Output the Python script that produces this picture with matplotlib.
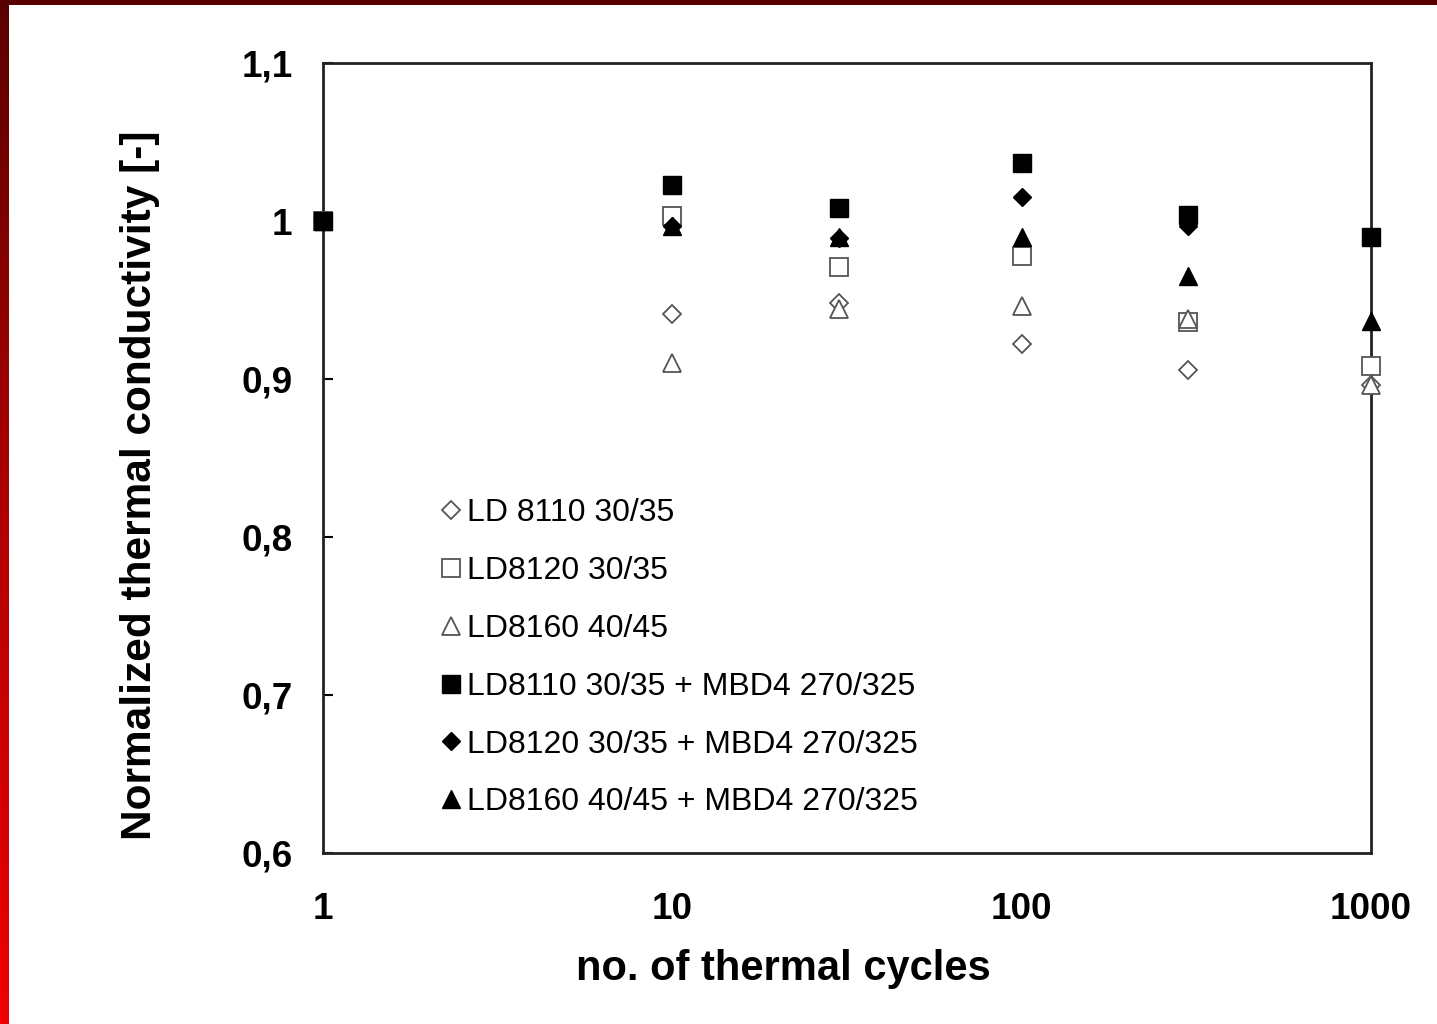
import numpy as np
import matplotlib
matplotlib.use("Agg")
import matplotlib.pyplot as plt
from matplotlib.colors import LinearSegmentedColormap

# ---- data ----
cycles = [1, 10, 30, 100, 300, 1000]

ld8110 = [1.0, 0.941, 0.948, 0.922, 0.906, 0.896]
ld8120 = [1.0, 1.003, 0.971, 0.978, 0.936, 0.908]
ld8160 = [1.0, 0.910, 0.944, 0.946, 0.938, 0.896]
ld8110_mbd = [1.0, 1.023, 1.008, 1.037, 1.004, 0.990]
ld8120_mbd = [1.0, 0.997, 0.989, 1.015, 0.997, 0.990]
ld8160_mbd = [1.0, 0.997, 0.990, 0.990, 0.965, 0.937]

labels = ["LD 8110 30/35", "LD8120 30/35", "LD8160 40/45",
          "LD8110 30/35 + MBD4 270/325", "LD8120 30/35 + MBD4 270/325",
          "LD8160 40/45 + MBD4 270/325"]

yticks = [0.6, 0.7, 0.8, 0.9, 1.0, 1.1]
ytick_labels = ["0,6", "0,7", "0,8", "0,9", "1", "1,1"]
xticks = [1, 10, 100, 1000]
xtick_labels = ["1", "10", "100", "1000"]

plt.rcParams["font.family"] = ["Liberation Sans", "DejaVu Sans"]

fig = plt.figure(figsize=(14.37, 10.24), dpi=100)
W, H = 1437, 1024

# red slide frame (left and top strips)
bar = fig.add_axes([0, 0, 9 / W, 1])
cm = LinearSegmentedColormap.from_list("fr", ["#f00000", "#b00000", "#5a0000"])
bar.imshow(np.linspace(0, 1, 256)[:, None], aspect="auto", cmap=cm, origin="lower")
bar.axis("off")
top = fig.add_axes([0, 1 - 5 / H, 1, 5 / H])
top.set_facecolor("#580000")
top.set_xticks([]); top.set_yticks([])
for s in top.spines.values():
    s.set_visible(False)

ax = fig.add_axes([323 / W, 1 - 853 / H, (1371 - 323) / W, (853 - 63) / H])
ax.set_xscale("log")
ax.set_xlim(1, 1000)
ax.set_ylim(0.6, 1.1)

ms = 13
ec = "#555555"
series = [
    (ld8110, dict(marker="D", ms=ms * 0.72, mfc="white", mec=ec, mew=1.3)),
    (ld8120, dict(marker="s", ms=ms, mfc="white", mec=ec, mew=1.3)),
    (ld8160, dict(marker="^", ms=ms, mfc="white", mec=ec, mew=1.3)),
    (ld8110_mbd, dict(marker="s", ms=ms, mfc="black", mec="black")),
    (ld8120_mbd, dict(marker="D", ms=ms * 0.72, mfc="black", mec="black")),
    (ld8160_mbd, dict(marker="^", ms=ms, mfc="black", mec="black")),
]
for (vals, st), lab in zip(series, labels):
    ax.plot(cycles, vals, ls="none", label=lab, clip_on=False, zorder=3, **st)

ax.set_yticks(yticks)
ax.set_yticklabels(ytick_labels)
ax.set_xticks(xticks)
ax.set_xticklabels(xtick_labels)
ax.xaxis.set_minor_locator(matplotlib.ticker.NullLocator())
ax.tick_params(axis="y", direction="in", length=7, width=1.5, pad=22,
               labelsize=26.5)
ax.tick_params(axis="x", direction="out", length=0, pad=28, labelsize=26.5)
for lab in ax.get_xticklabels() + ax.get_yticklabels():
    lab.set_fontweight("bold")
for s in ax.spines.values():
    s.set_linewidth(2)
    s.set_color("#222222")

ax.set_xlabel("no. of thermal cycles", fontsize=30, fontweight="bold")
ax.xaxis.set_label_coords((783 - 323) / 1048, -0.122)
ax.set_ylabel("Normalized thermal conductivity [-]", fontsize=30.5,
              fontweight="bold")
ax.yaxis.set_label_coords(-(323 - 160) / 1048, (853 - 485) / 790)

leg = ax.legend(loc="upper left", bbox_to_anchor=(0.099, 0.465), frameon=False,
                fontsize=23, handlelength=0.7, handletextpad=0.15,
                labelspacing=0.87, markerscale=1.0, borderaxespad=0)

fig.savefig("out.png", dpi=100)
